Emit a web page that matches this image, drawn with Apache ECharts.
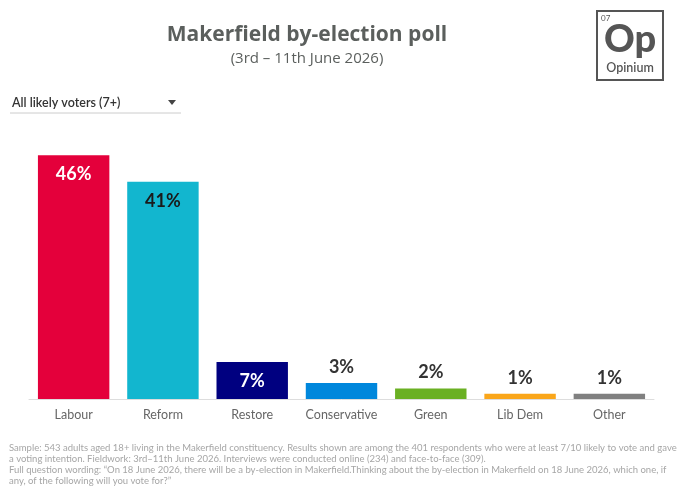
<!DOCTYPE html>
<html>
<head>
<meta charset="utf-8">
<script src="https://cdn.jsdelivr.net/npm/echarts@6/dist/echarts.min.js"></script>
<style>
  html, body { margin: 0; padding: 0; background: #fff; }
  #chart { width: 680px; height: 492px; }
</style>
</head>
<body>
<div id="chart"></div>
<script>
// poll data
const parties = ['Labour', 'Reform', 'Restore', 'Conservative', 'Green', 'Lib Dem', 'Other'];
const shares = [46, 41, 7, 3, 2, 1, 1];
const partyColors = ['#e4003b', '#12b6cf', '#000080', '#0087dc', '#6ab023', '#faa61a', '#808080'];
const labelInside = [true, true, true, false, false, false, false];
const labelColors = ['#ffffff', '#1a1a1a', '#ffffff', '#333333', '#333333', '#333333', '#333333'];

const footnote = [
  'Sample: 543 adults aged 18+ living in the Makerfield constituency. Results shown are among the 401 respondents who were at least 7/10 likely to vote and gave',
  'a voting intention. Fieldwork: 3rd\u201311th June 2026. Interviews were conducted online (234) and face-to-face (309).',
  'Full question wording: \u201cOn 18 June 2026, there will be a by-election in Makerfield.Thinking about the by-election in Makerfield on 18 June 2026, which one, if',
  'any, of the following will you vote for?\u201d'
];

const chart = echarts.init(document.getElementById('chart'));

const barData = shares.map((v, i) => ({
    value: v,
    itemStyle: { color: partyColors[i] },
    label: {
        position: labelInside[i] ? 'insideTop' : 'top',
        distance: labelInside[i] ? 10 : 7,
        color: labelColors[i]
    }
}));

const option = {
    animation: false,
    textStyle: { fontFamily: 'Lato' },
    title: {
        text: 'Makerfield by-election poll',
        subtext: '(3rd \u2013 11th June 2026)',
        left: 302,
        textAlign: 'center',
        top: 20,
        itemGap: 5,
        textStyle: { fontFamily: 'Open Sans', fontSize: 21, fontWeight: 'bold', color: '#5b5f5d' },
        subtextStyle: { fontFamily: 'Open Sans', fontSize: 15, color: '#5b5f5d' }
    },
    grid: { left: 29, right: 26, top: 134, bottom: 93 },
    xAxis: {
        type: 'category',
        data: parties,
        axisTick: { show: false },
        axisLine: { lineStyle: { color: '#dddddd', width: 1 } },
        axisLabel: { color: '#666', fontSize: 12.5, margin: 9, interval: 0 }
    },
    yAxis: {
        type: 'value',
        min: 0,
        max: 50,
        show: false,
        splitLine: { show: false }
    },
    series: [{
        type: 'bar',
        data: barData,
        barCategoryGap: '20%',
        label: {
            show: true,
            formatter: '{c}%',
            fontSize: 18,
            fontWeight: 'bold'
        }
    }],
    graphic: [
        // dropdown
        { type: 'text', left: 12, top: 96, style: { text: 'All likely voters (7+)', font: '600 12.5px Lato', fill: '#333' } },
        { type: 'polygon', shape: { points: [[168, 100], [176, 100], [172, 105]] }, style: { fill: '#444' } },
        { type: 'line', shape: { x1: 10, y1: 113, x2: 181, y2: 113 }, style: { stroke: '#cccccc', lineWidth: 1 } },
        // logo
        { type: 'rect', shape: { x: 597, y: 11, width: 66, height: 69 }, style: { fill: 'none', stroke: '#555', lineWidth: 2 } },
        { type: 'text', left: 601, top: 14, style: { text: '07', font: '8px Lato', fill: '#555' } },
        { type: 'text', x: 630, y: 40, style: { text: 'Op', font: '900 38px Lato', fill: '#555', align: 'center', verticalAlign: 'middle' } },
        { type: 'text', x: 630, y: 68, style: { text: 'Opinium', font: '600 12.5px Lato', fill: '#555', align: 'center', verticalAlign: 'middle' } },
        // footnote
        { type: 'text', left: 9, top: 442, style: { text: footnote.join('\n'), font: '9.5px Lato', lineHeight: 11, fill: '#a6a6a6' } }
    ]
};

chart.setOption(option);
</script>
</body>
</html>
